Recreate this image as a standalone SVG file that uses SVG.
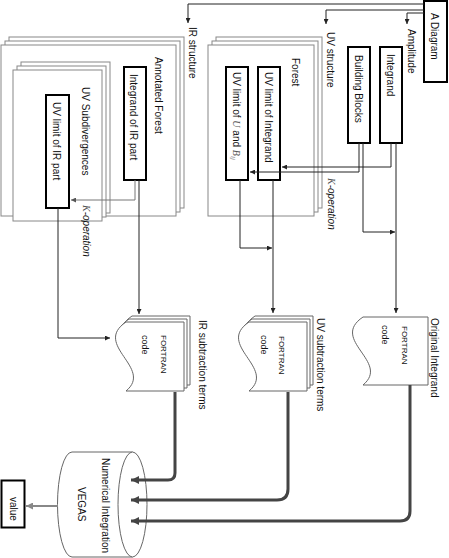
<svg xmlns="http://www.w3.org/2000/svg" width="449" height="558" viewBox="0 0 449 558">
<style>
.t{font-family:"Liberation Sans",Arial,sans-serif;font-size:10px;fill:#111}
.f{font-family:"Liberation Sans",Arial,sans-serif;font-size:8px;fill:#111}
.c{font-family:"Liberation Sans",Arial,sans-serif;font-size:9px;fill:#111}
.m{font-family:"Liberation Serif","Times New Roman",serif;font-style:italic;fill:#555}
.it{font-style:italic}
.box{fill:#fff;stroke:#000;stroke-width:2}
.stk{fill:#fff;stroke:#888;stroke-width:1}
.doc{fill:#fff;stroke:#666;stroke-width:1}
.ln{fill:none;stroke:#222;stroke-width:1;marker-end:url(#a)}
.lg{fill:none;stroke:#777;stroke-width:1;marker-end:url(#ag)}
.th{fill:none;stroke:#444;stroke-width:3;marker-end:url(#b)}
.vl{fill:none;stroke:#888;stroke-width:2;marker-end:url(#ag2)}
</style>
<defs>
<marker id="a" markerUnits="userSpaceOnUse" markerWidth="6" markerHeight="5" refX="5" refY="2.5" orient="auto"><path d="M0,0 L5,2.5 L0,5 z" fill="#222"/></marker>
<marker id="ag" markerUnits="userSpaceOnUse" markerWidth="6" markerHeight="5" refX="5" refY="2.5" orient="auto"><path d="M0,0 L5,2.5 L0,5 z" fill="#555"/></marker>
<marker id="ag2" markerUnits="userSpaceOnUse" markerWidth="8" markerHeight="7" refX="7" refY="3.5" orient="auto"><path d="M0,0 L7,3.5 L0,7 z" fill="#888"/></marker>
<marker id="b" markerUnits="userSpaceOnUse" markerWidth="9" markerHeight="8" refX="8" refY="4" orient="auto"><path d="M0,0 L8,4 L0,8 z" fill="#444"/></marker>
<path id="docS" d="M0,0 H58 V69 H0 C28,46 -34,23 0,0 Z"/>
</defs>

<g id="a-diagram">
<rect class="box" x="424" y="1" width="23" height="81"/>
<text class="t" transform="translate(431,13) rotate(90)">A Diagram</text>
</g>

<g id="annotated-forest">
<rect class="stk" x="9" y="37" width="175" height="171"/>
<rect class="stk" x="5" y="41" width="175" height="171"/>
<rect class="stk" x="1" y="45" width="175" height="171"/>
<text class="t" transform="translate(155,57) rotate(90)">Annotated Forest</text>
</g>

<g id="uv-subdivergences">
<rect class="stk" x="21" y="62" width="89" height="151"/>
<rect class="stk" x="17" y="66" width="89" height="151"/>
<rect class="stk" x="13" y="70" width="89" height="151"/>
<text class="t" transform="translate(82,87) rotate(90)">UV Subdivergences</text>
</g>

<g id="uv-limit-ir">
<rect class="box" x="46" y="95" width="23" height="113"/>
<text class="t" transform="translate(53,102) rotate(90)">UV limit of IR part</text>
</g>

<g id="integrand-ir">
<rect class="box" x="124" y="67" width="22" height="113"/>
<text class="t" transform="translate(130,74) rotate(90)">Integrand of IR part</text>
</g>

<g id="forest">
<rect class="stk" x="216" y="37" width="106" height="171"/>
<rect class="stk" x="212" y="41" width="106" height="171"/>
<rect class="stk" x="208" y="45" width="106" height="171"/>
<text class="t" transform="translate(292,58) rotate(90)">Forest</text>
</g>

<g id="uv-limit-u">
<rect class="box" x="226" y="67" width="22" height="113"/>
<text class="t" transform="translate(233,72) rotate(90)">UV limit of <tspan class="m">U</tspan> and <tspan class="m">B</tspan><tspan class="m" font-size="7" dy="2">ij</tspan></text>
</g>

<g id="uv-limit-integrand">
<rect class="box" x="258" y="67" width="22" height="113"/>
<text class="t" transform="translate(265,72) rotate(90)">UV limit of Integrand</text>
</g>

<g id="building-blocks">
<rect class="box" x="348" y="47" width="22" height="96"/>
<text class="t" transform="translate(355,55) rotate(90)">Building Blocks</text>
</g>

<g id="integrand">
<rect class="box" x="380" y="47" width="22" height="96"/>
<text class="t" transform="translate(387,54) rotate(90)">Integrand</text>
</g>

<g id="ir-fortran">
<use href="#docS" class="doc" transform="translate(132,316)"/>
<use href="#docS" class="doc" transform="translate(129,319)"/>
<use href="#docS" class="doc" transform="translate(126,322)"/>
<text class="f" transform="translate(161,335) rotate(90)">FORTRAN</text>
<text class="c" transform="translate(142,335) rotate(90)">code</text>
</g>

<g id="uv-fortran">
<use href="#docS" class="doc" transform="translate(255,316)"/>
<use href="#docS" class="doc" transform="translate(252,319)"/>
<use href="#docS" class="doc" transform="translate(249,322)"/>
<text class="f" transform="translate(279,336) rotate(90)">FORTRAN</text>
<text class="c" transform="translate(261,335) rotate(90)">code</text>
</g>

<g id="original-fortran">
<path class="doc" d="M363,317 H428 V385 H363 C391,362 329,340 363,317 Z"/>
<text class="f" transform="translate(402,326) rotate(90)">FORTRAN</text>
<text class="c" transform="translate(382,325) rotate(90)">code</text>
</g>

<g id="vegas">
<path class="doc" d="M132.5,452 H72 A14.5,52.5 0 0 0 72,557 H132.5 Z"/>
<ellipse class="doc" cx="132.5" cy="504.5" rx="14.5" ry="52.5"/>
<text class="t" transform="translate(102,458) rotate(90)">Numerical Integration</text>
<text class="t" transform="translate(78,487) rotate(90)">VEGAS</text>
</g>

<g id="value">
<rect class="box" x="1.5" y="480.5" width="23" height="47"/>
<text class="t" transform="translate(10,497) rotate(90)">value</text>
</g>

<g id="labels">
<text class="t" transform="translate(408,29) rotate(90)">Amplitude</text>
<text class="t" transform="translate(327,32) rotate(90)">UV structure</text>
<text class="t" transform="translate(189,27) rotate(90)">IR structure</text>
<text class="t it" transform="translate(328,178) rotate(90)"><tspan class="m" fill="#111">K</tspan>-operation</text>
<text class="t it" transform="translate(83,205) rotate(90)"><tspan class="m" fill="#111">K</tspan>-operation</text>
<text class="t" transform="translate(199,320) rotate(90)">IR subtraction terms</text>
<text class="t" transform="translate(317,318) rotate(90)">UV subtraction terms</text>
<text class="t" transform="translate(431,318) rotate(90)">Original Integrand</text>
</g>

<g id="connectors">
<path class="ln" d="M424,4 H188 V23"/>
<path class="ln" d="M424,10 H326 V24"/>
<path class="ln" d="M424,13 H407 V24"/>
<path class="ln" d="M391,143 V167 H282"/>
<path class="ln" d="M396,143 V313"/>
<path class="ln" d="M359,143 V172 H250"/>
<path class="ln" d="M363,143 V232 H395"/>
<path class="ln" d="M273,180 V313"/>
<path class="ln" d="M240,180 V248 H272"/>
<path class="lg" d="M135,180 V200 H71"/>
<path class="ln" d="M139,180 V314"/>
<path class="ln" d="M58,208 V338 H110"/>
<path class="th" d="M175,392 V473 Q175,480 168,480 H131"/>
<path class="th" d="M288,392 V489 Q288,500 277,500 H131"/>
<path class="th" d="M410,385 V511 Q410,521 400,521 H131"/>
<path class="vl" d="M58,506 H26"/>
</g>
</svg>
